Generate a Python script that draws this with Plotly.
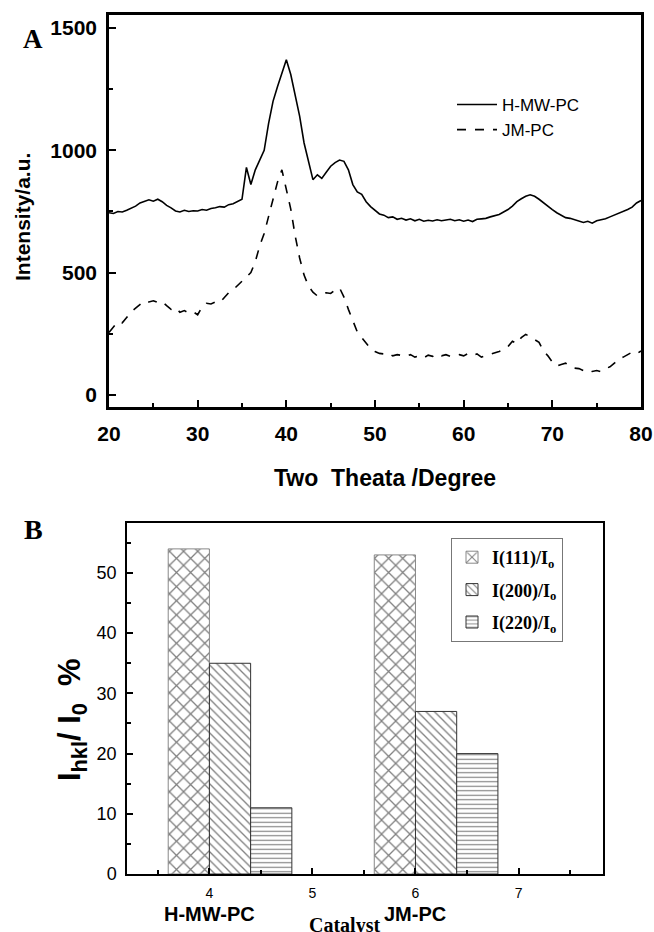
import plotly.graph_objects as go

W, H = 654, 932

# ---------------- Panel A data ----------------
two_theta = [20 + 0.5 * i for i in range(121)]
h_mw_pc = [745, 742, 750, 748, 755, 762, 772, 785, 790, 798,
           792, 800, 790, 775, 765, 752, 748, 755, 750, 753,
           752, 758, 755, 762, 765, 770, 768, 778, 782, 790,
           800, 930, 860, 920, 960, 1000, 1110, 1200, 1260, 1320,
           1370, 1310, 1220, 1140, 1030, 960, 880, 900, 885, 910,
           935, 950, 960, 955, 920, 860, 830, 820, 790, 770,
           755, 740, 735, 725, 728, 718, 722, 715, 720, 712,
           718, 710, 714, 711, 716, 712, 715, 718, 712, 716,
           710, 715, 709, 718, 720, 722, 728, 732, 738, 748,
           758, 772, 790, 802, 812, 818, 812, 800, 785, 770,
           758, 745, 735, 725, 722, 716, 712, 705, 710, 702,
           712, 715, 720, 728, 735, 742, 752, 758, 768, 785,
           795]
jm_pc = [255, 280, 300, 295, 320, 340, 355, 370, 385, 380,
         385, 378, 382, 365, 350, 358, 338, 345, 335, 340,
         328, 360, 375, 372, 380, 378, 400, 418, 430, 448,
         465, 485, 500, 545, 610, 660, 730, 800, 870, 920,
         840, 760, 650, 560, 490, 445, 420, 405, 412, 418,
         415, 430, 438, 400, 350, 300, 258, 235, 210, 190,
         178, 170, 168, 172, 160, 165, 162, 158, 165, 155,
         160, 152, 163, 158, 168, 160, 165, 158, 162, 165,
         160, 170, 162, 168, 155, 160, 165, 172, 178, 185,
         198, 220, 210, 235, 248, 238, 228, 215, 180, 160,
         135, 118, 125, 130, 118, 110, 108, 100, 105, 96,
         100, 95, 108, 115, 130, 148, 155, 165, 175, 168,
         180]
xticks_a = [20, 30, 40, 50, 60, 70, 80]
yticks_a = [0, 500, 1000, 1500]

# ---------------- Panel B data ----------------
catalysts = ["H-MW-PC", "JM-PC"]
catalyst_pos = [4.2, 6.2]
catalyst_label_pos = [4, 6]
series_names = ["I(111)/I<sub>o</sub>", "I(200)/I<sub>o</sub>", "I(220)/I<sub>o</sub>"]
i111 = [54, 53]
i200 = [35, 27]
i220 = [11, 20]
xticks_b = [4, 5, 6, 7]

fig = go.Figure()

fig.add_trace(go.Scatter(x=two_theta, y=h_mw_pc, mode="lines", name="H-MW-PC",
                         line=dict(color="black", width=1.6), xaxis="x", yaxis="y",
                         legend="legend"))
fig.add_trace(go.Scatter(x=two_theta, y=jm_pc, mode="lines", name="JM-PC",
                         line=dict(color="black", width=1.6, dash="dash"), xaxis="x", yaxis="y",
                         legend="legend"))

patterns = [dict(shape="x", size=10, solidity=0.24, fgcolor="black", bgcolor="white"),
            dict(shape="\\", size=6, solidity=0.22, fgcolor="black", bgcolor="white"),
            dict(shape="-", size=4.5, solidity=0.25, fgcolor="black", bgcolor="white")]
outline_colors = ["#888", "#333", "#333"]
for name, vals, pat, grp, oc in zip(series_names, [i111, i200, i220], patterns,
                                    ["g1", "g2", "g3"], outline_colors):
    fig.add_trace(go.Bar(x=catalyst_pos, y=vals, name=name, xaxis="x2", yaxis="y2",
                         marker=dict(color="white", pattern=pat,
                                     line=dict(color=oc, width=1)),
                         legend="legend2", legendgroup=grp))

def px_x(p):
    return p / W

def px_y(p):
    return 1 - p / H

SANS = "Liberation Sans, Arial"
SERIF = "Liberation Serif, Times New Roman"
bold_tick = dict(family=SANS, size=21, color="black", weight="bold")
norm_tick = dict(family=SANS, size=18, color="black")

fig.update_layout(
    width=W, height=H,
    margin=dict(l=0, r=0, t=0, b=0),
    paper_bgcolor="white", plot_bgcolor="white",
    barmode="group", bargap=0.4, bargroupgap=0,
    showlegend=True,
    xaxis=dict(domain=[px_x(109), px_x(641)], range=[20, 80], tickvals=xticks_a,
               ticks="inside", ticklen=7, tickwidth=2, tickcolor="black",
               minor=dict(dtick=5, ticks="inside", ticklen=4, tickwidth=2, tickcolor="black"),
               showline=True, linewidth=2.5, linecolor="black", mirror=True,
               showgrid=False, zeroline=False, tickfont=bold_tick,
               ticklabelstandoff=6, anchor="y", automargin=False),
    yaxis=dict(domain=[px_y(407), px_y(15)], range=[-49, 1553], tickvals=yticks_a,
               ticks="inside", ticklen=7, tickwidth=2, tickcolor="black",
               minor=dict(dtick=250, ticks="inside", ticklen=4, tickwidth=2, tickcolor="black"),
               showline=True, linewidth=2.5, linecolor="black", mirror=True,
               showgrid=False, zeroline=False, tickfont=bold_tick,
               ticklabelstandoff=5, anchor="x", automargin=False),
    xaxis2=dict(domain=[px_x(127), px_x(603)], range=[3.2, 7.82], tickvals=xticks_b,
                ticks="inside", ticklen=6, tickwidth=1.5, tickcolor="black",
                minor=dict(dtick=0.5, tick0=3.5, ticks="inside", ticklen=4, tickwidth=1.5, tickcolor="black"),
                showline=True, linewidth=1.5, linecolor="black", mirror=True,
                showgrid=False, zeroline=False,
                tickfont=dict(family=SANS, size=14, color="black"),
                ticklabelstandoff=5, anchor="y2", automargin=False),
    yaxis2=dict(domain=[px_y(874), px_y(523)], range=[0, 58.3], dtick=10,
                ticks="inside", ticklen=6, tickwidth=1.5, tickcolor="black",
                minor=dict(dtick=5, ticks="inside", ticklen=4, tickwidth=1.5, tickcolor="black"),
                showline=True, linewidth=1.5, linecolor="black", mirror=True,
                showgrid=False, zeroline=False, tickfont=norm_tick,
                ticklabelstandoff=5, anchor="x2", automargin=False),
    legend=dict(x=px_x(452), y=px_y(87), xanchor="left", yanchor="top",
                bgcolor="rgba(0,0,0,0)", borderwidth=0,
                font=dict(family=SANS, size=17, color="black"),
                itemwidth=40, tracegroupgap=0),
    legend2=dict(x=px_x(451), y=px_y(538), xanchor="left", yanchor="top",
                 bgcolor="white", bordercolor="#777", borderwidth=1,
                 font=dict(family=SERIF, size=18, color="black", weight="bold"),
                 itemwidth=30, tracegroupgap=6),
)

def ann(text, x, y, font, angle=0, xref="paper"):
    return dict(text=text, x=x, y=px_y(y), xref=xref, yref="paper", showarrow=False,
                xanchor="center", yanchor="middle", textangle=angle, font=font)

annotations = [
    ann("A", px_x(33), 39, dict(family=SERIF, size=27, color="black", weight="bold")),
    ann("B", px_x(33), 529, dict(family=SERIF, size=28, color="black", weight="bold")),
    ann("Intensity/a.u.", px_x(22), 217, dict(family=SANS, size=21, color="black", weight="bold"), angle=-90),
    ann("Two\u00a0\u00a0Theata /Degree", px_x(385), 478, dict(family=SANS, size=23, color="black", weight="bold")),
    ann("I<sub>hkl</sub>/ I<sub>0</sub>\u00a0\u00a0%", px_x(72), 720,
        dict(family=SANS, size=31, color="black", weight="bold"), angle=-90),
    ann("Catalyst", px_x(344), 925, dict(family=SERIF, size=20, color="black", weight="bold")),
]
for name, pos in zip(catalysts, catalyst_label_pos):
    annotations.append(ann(name, pos, 914, dict(family=SANS, size=20, color="black", weight="bold"), xref="x2"))
fig.update_layout(annotations=annotations)

fig.write_html("out.html")
